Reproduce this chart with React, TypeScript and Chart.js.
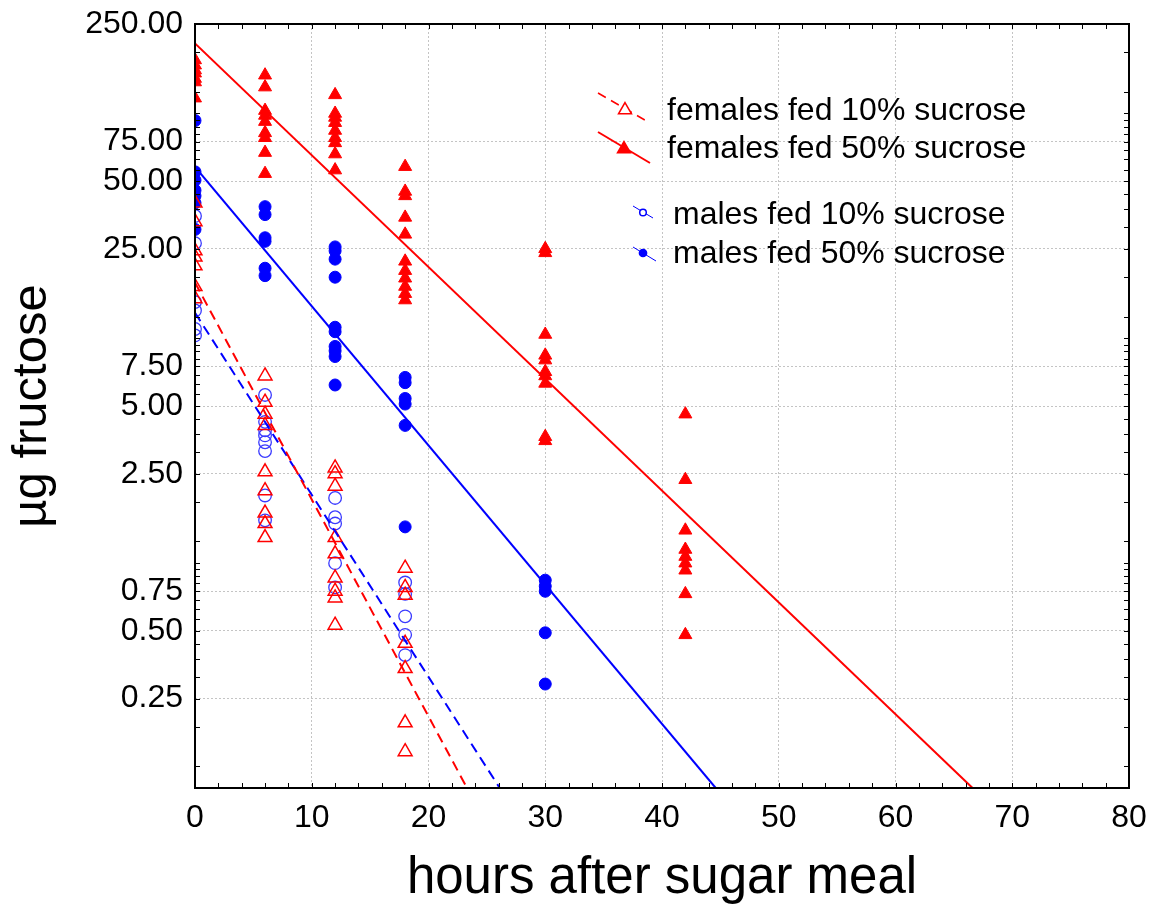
import React, { useEffect, useRef } from "react";
import { Chart, registerables } from "chart.js";

Chart.register(...registerables);

// ---------------- data ----------------
const femalesLowHours = [0, 0, 0, 0, 0, 0, 0, 6, 6, 6, 6, 6, 6, 6, 6, 6, 12, 12, 12, 12, 12, 12, 12, 12, 12, 18, 18, 18, 18, 18, 18, 18];
const femalesLowValues = [40, 33, 24.5, 23, 21, 17, 15, 6.8, 5.2, 4.6, 4.1, 2.55, 2.1, 1.67, 1.5, 1.3, 2.65, 2.5, 2.2, 1.3, 1.1, 0.86, 0.75, 0.7, 0.53, 0.95, 0.78, 0.72, 0.44, 0.34, 0.195, 0.145];

const femalesHighHours = [0, 0, 0, 0, 0, 0, 0, 6, 6, 6, 6, 6, 6, 6, 6, 6, 12, 12, 12, 12, 12, 12, 12, 12, 12, 18, 18, 18, 18, 18, 18, 18, 18, 18, 18, 18, 30, 30, 30, 30, 30, 30, 30, 30, 30, 30, 42, 42, 42, 42, 42, 42, 42, 42, 42];
const femalesHighValues = [173, 164, 156, 151, 143, 138, 117, 148, 131, 103, 98, 92, 82, 78, 67, 54, 121, 100, 96, 91, 84, 78, 74, 66, 56, 58, 45, 43, 34.5, 29, 22, 20, 18.5, 17, 15.8, 14.8, 25, 24, 10.4, 8.4, 8.0, 7.1, 6.8, 6.3, 3.65, 3.5, 4.6, 2.35, 1.4, 1.15, 1.07, 1.0, 0.93, 0.73, 0.48];

const malesLowHours = [0, 0, 0, 0, 0, 0, 6, 6, 6, 6, 6, 6, 6, 6, 12, 12, 12, 12, 12, 18, 18, 18, 18, 18];
const malesLowValues = [35, 26.5, 14.5, 13.3, 11, 10.3, 5.6, 4.25, 3.9, 3.7, 3.45, 3.15, 2.0, 1.55, 1.95, 1.6, 1.5, 1.0, 0.78, 0.82, 0.73, 0.58, 0.48, 0.39];

const malesHighHours = [0, 0, 0, 0, 0, 0, 0, 6, 6, 6, 6, 6, 6, 12, 12, 12, 12, 12, 12, 12, 12, 12, 12, 18, 18, 18, 18, 18, 18, 30, 30, 30, 30, 30];
const malesHighValues = [93, 55, 50.5, 45.5, 43, 40, 30.5, 38.5, 35.5, 28, 27, 20.5, 19, 25.5, 24.5, 22.5, 18.7, 11.2, 10.7, 9.2, 8.8, 8.3, 6.2, 6.7, 6.35, 5.4, 5.1, 4.1, 1.45, 0.84, 0.79, 0.75, 0.49, 0.29];

// fitted lines (end points)
const femalesLowFitHours = [0, 23.3];
const femalesLowFitValues = [17.7, 0.1];
const femalesHighFitHours = [0, 66.6];
const femalesHighFitValues = [205, 0.1];
const malesLowFitHours = [0, 26.1];
const malesLowFitValues = [13.0, 0.1];
const malesHighFitHours = [0, 44.6];
const malesHighFitValues = [57.8, 0.1];

const yTickValues = [0.25, 0.5, 0.75, 2.5, 5, 7.5, 25, 50, 75, 250];
const yMinorTicks = [0.125, 0.1875, 0.3125, 0.375, 0.4375, 0.5625, 0.625, 0.6875, 0.8125, 0.875, 0.9375, 1, 1.25, 1.875, 3.125, 3.75, 4.375, 5.625, 6.25, 6.875, 8.125, 8.75, 9.375, 10, 12.5, 18.75, 31.25, 37.5, 43.75, 56.25, 62.5, 68.75, 81.25, 87.5, 93.75, 100, 125, 187.5];
const xTickValues = [0, 10, 20, 30, 40, 50, 60, 70, 80];
const xMinorTicks = [2, 4, 6, 8, 10, 12, 14, 16, 18, 20, 22, 24, 26, 28, 30, 32, 34, 36, 38, 40, 42, 44, 46, 48, 50, 52, 54, 56, 58, 60, 62, 64, 66, 68, 70, 72, 74, 76, 78];

const seriesLabels = ["females fed 10% sucrose", "females fed 50% sucrose", "males fed 10% sucrose", "males fed 50% sucrose"];
const xTitle = "hours after sugar meal";
const yTitle = "\u00B5g fructose";

// ---------------- styles ----------------
const RED = "#ff0000";
const BLUE = "#0000ff";
const OPEN_BLUE = "#3a3aff";
const GRID = "#c4c4c4";
const FONT = "'Liberation Sans', Arial, Helvetica, sans-serif";

const pts = (h: number[], v: number[]) => h.map((x, i) => ({ x, y: v[i] }));

function drawTri(ctx: CanvasRenderingContext2D, x: number, y: number, r: number) {
  ctx.beginPath();
  for (let k = 0; k < 3; k++) {
    const a = (k * 2 * Math.PI) / 3;
    const px = x + Math.sin(a) * r;
    const py = y - Math.cos(a) * r;
    if (k === 0) ctx.moveTo(px, py);
    else ctx.lineTo(px, py);
  }
  ctx.closePath();
}

const framePlugin = {
  id: "frameTicks",
  afterDatasetsDraw(chart: any) {
    const { ctx, chartArea: a, scales } = chart;
    const xs = scales.x;
    const ys = scales.y;
    const len = 5;
    ctx.save();
    ctx.strokeStyle = "#000";
    ctx.lineWidth = 1;
    ctx.beginPath();
    for (const v of xMinorTicks) {
      const px = Math.round(xs.getPixelForValue(v)) + 0.5;
      ctx.moveTo(px, a.bottom);
      ctx.lineTo(px, a.bottom - len);
      ctx.moveTo(px, a.top);
      ctx.lineTo(px, a.top + len);
    }
    for (const v of [...yMinorTicks, ...yTickValues]) {
      const py = Math.round(ys.getPixelForValue(v)) + 0.5;
      ctx.moveTo(a.left, py);
      ctx.lineTo(a.left + len, py);
      ctx.moveTo(a.right, py);
      ctx.lineTo(a.right - len, py);
    }
    ctx.stroke();
    ctx.lineWidth = 2;
    ctx.strokeRect(a.left, a.top, a.right - a.left, a.bottom - a.top);
    ctx.restore();
  },
};

const legendPlugin = {
  id: "customLegend",
  afterDraw(chart: any) {
    const { ctx, chartArea: a } = chart;
    const ox = a.left;
    const oy = a.top;
    const entries = [
      { color: RED, dash: [9, 6], lw: 1.5, l: [403, 69, 455, 99], m: [430, 86], shape: "tri", fill: false, r: 7.5, tx: 472, ty: 96 },
      { color: RED, dash: [], lw: 2, l: [403, 108, 455, 139], m: [429, 125], shape: "tri", fill: true, r: 7.5, tx: 472, ty: 134 },
      { color: BLUE, dash: [], lw: 1, l: [438, 182, 458, 194], m: [448, 188.5], shape: "circle", fill: false, r: 3.3, tx: 478, ty: 200 },
      { color: BLUE, dash: [], lw: 1, l: [438, 223, 461, 237], m: [448, 229], shape: "circle", fill: true, r: 3.6, tx: 478, ty: 238.5 },
    ];
    ctx.save();
    entries.forEach((e, i) => {
      ctx.strokeStyle = e.color;
      ctx.lineWidth = e.lw;
      ctx.setLineDash(e.dash);
      ctx.beginPath();
      ctx.moveTo(ox + e.l[0], oy + e.l[1]);
      ctx.lineTo(ox + e.l[2], oy + e.l[3]);
      ctx.stroke();
      ctx.setLineDash([]);
      const mx = ox + e.m[0];
      const my = oy + e.m[1];
      if (e.shape === "tri") {
        drawTri(ctx, mx, my, e.r);
      } else {
        ctx.beginPath();
        ctx.arc(mx, my, e.r, 0, Math.PI * 2);
      }
      ctx.fillStyle = e.fill ? e.color : "#fff";
      ctx.fill();
      ctx.lineWidth = 1.5;
      ctx.strokeStyle = e.color;
      ctx.stroke();
      ctx.fillStyle = "#000";
      ctx.font = `32px ${FONT}`;
      ctx.textAlign = "left";
      ctx.textBaseline = "alphabetic";
      ctx.fillText(seriesLabels[i], ox + e.tx, oy + e.ty);
    });
    ctx.restore();
  },
};

export default function App() {
  const ref = useRef<HTMLCanvasElement | null>(null);

  useEffect(() => {
    if (!ref.current) return;
    Chart.defaults.font.family = FONT;
    Chart.defaults.color = "#000";

    const lineDs = (label: string, h: number[], v: number[], color: string, dash: number[]) => ({
      type: "scatter" as const,
      label,
      data: pts(h, v),
      showLine: true,
      borderColor: color,
      borderWidth: 2,
      borderDash: dash,
      pointRadius: 0,
      pointHoverRadius: 0,
      fill: false,
    });

    const chart = new Chart(ref.current, {
      type: "scatter",
      data: {
        datasets: [
          lineDs("fit " + seriesLabels[0], femalesLowFitHours, femalesLowFitValues, RED, [10, 6]),
          lineDs("fit " + seriesLabels[1], femalesHighFitHours, femalesHighFitValues, RED, []),
          lineDs("fit " + seriesLabels[2], malesLowFitHours, malesLowFitValues, BLUE, [10, 6]),
          lineDs("fit " + seriesLabels[3], malesHighFitHours, malesHighFitValues, BLUE, []),
          {
            label: seriesLabels[0],
            data: pts(femalesLowHours, femalesLowValues),
            pointStyle: "triangle",
            pointRadius: 8,
            pointBorderWidth: 1.5,
            pointBorderColor: RED,
            pointBackgroundColor: "rgba(255,255,255,0)",
          },
          {
            label: seriesLabels[1],
            data: pts(femalesHighHours, femalesHighValues),
            pointStyle: "triangle",
            pointRadius: 7.5,
            pointBorderWidth: 1,
            pointBorderColor: RED,
            pointBackgroundColor: RED,
          },
          {
            label: seriesLabels[2],
            data: pts(malesLowHours, malesLowValues),
            pointStyle: "circle",
            pointRadius: 6.3,
            pointBorderWidth: 1.3,
            pointBorderColor: OPEN_BLUE,
            pointBackgroundColor: "rgba(255,255,255,0)",
          },
          {
            label: seriesLabels[3],
            data: pts(malesHighHours, malesHighValues),
            pointStyle: "circle",
            pointRadius: 6,
            pointBorderWidth: 1,
            pointBorderColor: BLUE,
            pointBackgroundColor: BLUE,
          },
        ],
      },
      options: {
        responsive: false,
        animation: false,
        devicePixelRatio: 1,
        layout: { padding: { left: 0, top: 24, right: 31, bottom: 0 } },
        plugins: {
          legend: { display: false },
          tooltip: { enabled: false },
        },
        scales: {
          x: {
            type: "linear",
            min: 0,
            max: 80,
            afterBuildTicks: (s: any) => {
              s.ticks = xTickValues.map((v) => ({ value: v }));
            },
            afterFit: (s: any) => {
              s.height = 124;
              s.paddingLeft = 0;
              s.paddingRight = 0;
            },
            ticks: {
              font: { size: 32 },
              color: "#000",
              padding: 11,
              maxRotation: 0,
              autoSkip: false,
            },
            grid: { color: GRID, lineWidth: 1, drawTicks: false },
            border: { display: false, dash: [2, 2] },
            title: {
              display: true,
              text: xTitle,
              font: { size: 51 },
              color: "#000",
              padding: { top: 0, bottom: 2 },
            },
          },
          y: {
            type: "logarithmic",
            min: 0.1,
            max: 250,
            afterBuildTicks: (s: any) => {
              s.ticks = yTickValues.map((v) => ({ value: v }));
            },
            afterFit: (s: any) => {
              s.width = 195;
              s.paddingTop = 0;
              s.paddingBottom = 0;
            },
            ticks: {
              callback: (v: any) => Number(v).toFixed(2),
              font: { size: 32 },
              color: "#000",
              padding: 12,
              autoSkip: false,
            },
            grid: { color: GRID, lineWidth: 1, drawTicks: false },
            border: { display: false, dash: [2, 2] },
            title: {
              display: true,
              text: yTitle,
              font: { size: 49 },
              color: "#000",
              padding: { top: 3, bottom: 0 },
            },
          },
        },
      } as any,
      plugins: [framePlugin, legendPlugin],
    });
    return () => chart.destroy();
  }, []);

  return (
    <div style={{ position: "absolute", left: 0, top: 0, width: 1160, height: 912, background: "#fff" }}>
      <canvas ref={ref} width={1160} height={912} style={{ display: "block", width: 1160, height: 912 }} />
    </div>
  );
}
